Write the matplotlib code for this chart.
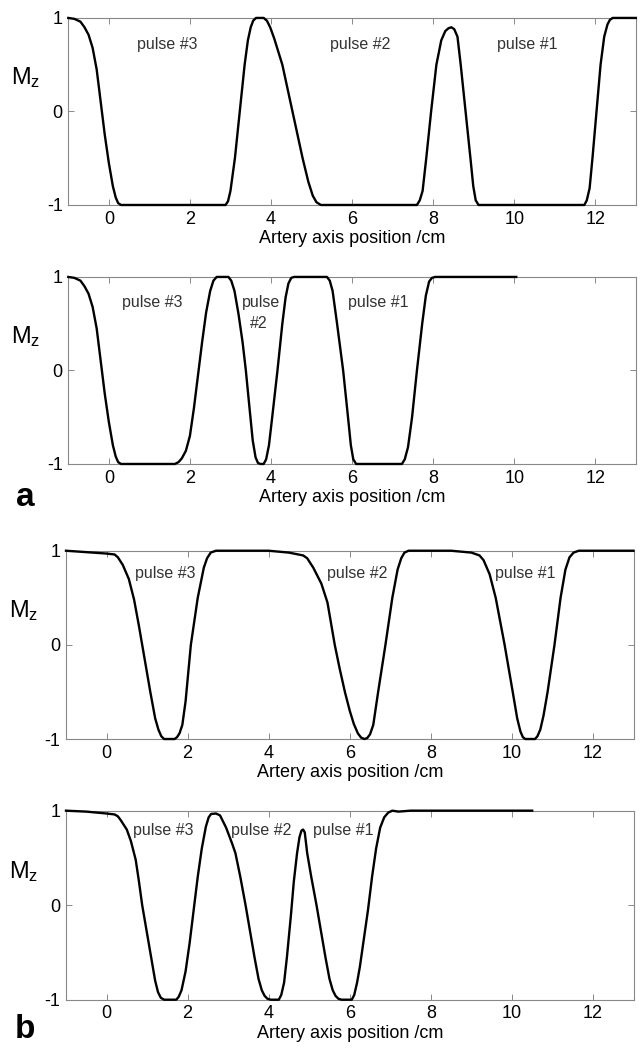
import matplotlib
matplotlib.use("Agg")
import matplotlib.pyplot as plt

plt.rcParams['font.family'] = ['Liberation Sans', 'DejaVu Sans']
plt.rcParams['mathtext.fontset'] = 'custom'
plt.rcParams['mathtext.rm'] = 'Liberation Sans'
plt.rcParams['mathtext.it'] = 'Liberation Sans'
plt.rcParams['axes.unicode_minus'] = False

# panel a, top: three pulses, wide spacing
x_a1 = [-1, -0.85, -0.7, -0.6, -0.5, -0.4, -0.3, -0.2, -0.1, 0, 0.1, 0.17, 0.23, 0.3,
        2.88, 2.94, 3.0, 3.11, 3.23, 3.35, 3.43, 3.5, 3.56, 3.63, 3.82, 3.9, 3.98,
        4.08, 4.28, 4.53, 4.78, 4.92, 5.03, 5.12, 5.23,
        7.6, 7.67, 7.74, 7.83, 7.95, 8.08, 8.2, 8.3, 8.38, 8.45, 8.52, 8.6, 8.68,
        8.8, 8.92, 8.99, 9.05, 9.12,
        11.73, 11.79, 11.86, 11.93, 12.03, 12.13, 12.22, 12.3, 12.36, 12.43, 13.0]
y_a1 = [1, 0.99, 0.96, 0.9, 0.82, 0.68, 0.45, 0.1, -0.25, -0.55, -0.8, -0.92, -0.98, -1,
        -1, -0.96, -0.85, -0.5, 0, 0.5, 0.76, 0.9, 0.97, 1, 1, 0.97, 0.9,
        0.78, 0.5, 0, -0.5, -0.75, -0.9, -0.97, -1,
        -1, -0.95, -0.85, -0.5, 0, 0.5, 0.76, 0.86, 0.89, 0.9, 0.88, 0.8, 0.5,
        0, -0.5, -0.8, -0.95, -1,
        -1, -0.95, -0.82, -0.5, 0, 0.5, 0.8, 0.93, 0.98, 1, 1]

# panel a, bottom: pulses closer together, curve ends at 10
x_a2 = [-1, -0.85, -0.7, -0.6, -0.5, -0.4, -0.3, -0.2, -0.1, 0, 0.1, 0.17, 0.23, 0.3,
        1.63, 1.72, 1.8, 1.9, 2.0, 2.1, 2.2, 2.3, 2.4, 2.5, 2.58, 2.66,
        2.95, 3.02, 3.1, 3.2, 3.3, 3.38, 3.47, 3.55, 3.62, 3.68, 3.74,
        3.82, 3.88, 3.95, 4.03, 4.16, 4.28, 4.36, 4.43, 4.5, 4.57,
        5.38, 5.45, 5.52, 5.63, 5.78, 5.9, 5.97, 6.03, 6.1,
        7.23, 7.3, 7.38, 7.48, 7.6, 7.73, 7.82, 7.9, 7.97, 8.05, 10.05]
y_a2 = [1, 0.99, 0.96, 0.9, 0.82, 0.68, 0.45, 0.1, -0.25, -0.55, -0.8, -0.92, -0.98, -1,
        -1, -0.98, -0.94, -0.86, -0.7, -0.4, -0.05, 0.3, 0.62, 0.85, 0.96, 1,
        1, 0.96, 0.85, 0.6, 0.3, 0, -0.4, -0.75, -0.93, -0.99, -1,
        -1, -0.95, -0.8, -0.5, 0, 0.5, 0.78, 0.93, 0.99, 1,
        1, 0.96, 0.85, 0.5, 0, -0.5, -0.8, -0.95, -1,
        -1, -0.95, -0.82, -0.5, 0, 0.5, 0.8, 0.95, 0.99, 1, 1]

# panel b, top
x_b1 = [-1, -0.5, 0, 0.2, 0.28, 0.4, 0.55, 0.68, 0.8, 0.88, 1.0, 1.08, 1.2, 1.28,
        1.35, 1.42, 1.68, 1.74, 1.8, 1.87, 1.95, 2.08, 2.25, 2.4, 2.48, 2.57, 2.7,
        4.0, 4.5, 4.85, 4.95, 5.1, 5.3, 5.45, 5.55, 5.63, 5.75, 5.88, 6.0, 6.1,
        6.2, 6.28, 6.36, 6.43, 6.5, 6.58, 6.7, 6.88, 7.05, 7.18, 7.27, 7.35, 7.45,
        8.5, 9.0, 9.2, 9.3, 9.45, 9.6, 9.82, 10.02, 10.13, 10.21, 10.27, 10.33,
        10.57, 10.63, 10.7, 10.78, 10.88, 11.05, 11.2, 11.32, 11.42, 11.52, 11.65, 13.0]
y_b1 = [1, 0.985, 0.97, 0.96, 0.93, 0.85, 0.7, 0.48, 0.2, 0, -0.3, -0.5, -0.78, -0.9,
        -0.97, -1, -1, -0.98, -0.94, -0.85, -0.6, 0, 0.5, 0.82, 0.92, 0.98, 1,
        1, 0.98, 0.95, 0.92, 0.82, 0.65, 0.45, 0.2, 0, -0.25, -0.5, -0.7, -0.84,
        -0.94, -0.985, -1, -0.99, -0.95, -0.85, -0.5, 0, 0.5, 0.8, 0.92, 0.98, 1,
        1, 0.98, 0.95, 0.9, 0.75, 0.5, 0, -0.5, -0.78, -0.92, -0.98, -1,
        -1, -0.97, -0.9, -0.75, -0.5, 0, 0.5, 0.8, 0.93, 0.98, 1, 1]

# panel b, bottom
x_b2 = [-1, -0.5, 0, 0.2, 0.28, 0.35, 0.5, 0.6, 0.72, 0.8, 0.88, 1.0, 1.1, 1.2, 1.27,
        1.34, 1.42, 1.72, 1.78, 1.85, 1.95, 2.05, 2.15, 2.25, 2.35, 2.45, 2.52,
        2.58, 2.7, 2.8, 2.95, 3.1, 3.18, 3.3, 3.43, 3.55, 3.65, 3.75, 3.83, 3.9,
        3.97, 4.05, 4.25, 4.31, 4.38, 4.45, 4.55, 4.62, 4.7, 4.76, 4.81, 4.85, 4.89,
        4.95, 5.05, 5.18, 5.3, 5.4, 5.5, 5.58, 5.65, 5.72, 5.8,
        6.05, 6.11, 6.18, 6.25, 6.35, 6.45, 6.55, 6.65, 6.75, 6.85, 6.95, 7.05,
        7.2, 7.5, 10.5]
y_b2 = [1, 0.99, 0.97, 0.96, 0.94, 0.9, 0.8, 0.68, 0.48, 0.25, 0, -0.3, -0.55, -0.8, -0.92,
        -0.98, -1, -1, -0.97, -0.9, -0.7, -0.4, -0.05, 0.3, 0.6, 0.83, 0.93,
        0.965, 0.97, 0.95, 0.82, 0.65, 0.55, 0.3, 0, -0.3, -0.55, -0.78, -0.9, -0.96,
        -0.99, -1, -1, -0.95, -0.82, -0.55, -0.1, 0.25, 0.55, 0.72, 0.79, 0.8, 0.77,
        0.55, 0.3, 0, -0.3, -0.55, -0.78, -0.9, -0.96, -0.99, -1,
        -1, -0.95, -0.82, -0.65, -0.35, -0.05, 0.3, 0.6, 0.82, 0.93, 0.98, 1.0,
        0.99, 1.0, 1.0]

# pulse labels: (text, x, y)
labels_a1 = [("pulse #3", 1.45, 0.72), ("pulse #2", 6.2, 0.72), ("pulse #1", 10.33, 0.72)]
labels_a2 = [("pulse #3", 1.07, 0.73), ("pulse", 3.75, 0.73), ("#2", 3.7, 0.5),
             ("pulse #1", 6.65, 0.73)]
labels_b1 = [("pulse #3", 1.45, 0.76), ("pulse #2", 6.18, 0.76), ("pulse #1", 10.33, 0.76)]
labels_b2 = [("pulse #3", 1.41, 0.79), ("pulse #2", 3.82, 0.79), ("pulse #1", 5.85, 0.79)]

xticks = [0, 2, 4, 6, 8, 10, 12]
yticks = [-1, 0, 1]

panels = [
    (x_a1, y_a1, labels_a1, [0.1067, 0.8046, 0.8868, 0.1783]),
    (x_a2, y_a2, labels_a2, [0.1067, 0.5577, 0.8868, 0.1783]),
    (x_b1, y_b1, labels_b1, [0.1031, 0.2955, 0.8868, 0.1795]),
    (x_b2, y_b2, labels_b2, [0.1031, 0.0470, 0.8868, 0.1802]),
]

fig = plt.figure(figsize=(6.4, 10.49), dpi=100)
for xs, ys, labs, rect in panels:
    ax = fig.add_axes(rect)
    ax.plot(xs, ys, color='black', lw=1.7, clip_on=False, zorder=3,
            solid_joinstyle='round')
    for txt, tx, ty in labs:
        ax.text(tx, ty, txt, ha='center', va='center', fontsize=11.5, color='#333333')
    ax.set_xlim(-1, 13)
    ax.set_ylim(-1, 1)
    ax.set_xticks(xticks)
    ax.set_yticks(yticks)
    ax.tick_params(direction='in', top=True, right=True, length=4, width=0.6,
                   color='#777777', labelsize=13, pad=4)
    for sp in ax.spines.values():
        sp.set_color('#888888')
        sp.set_linewidth(0.8)
    ax.set_xlabel('Artery axis position /cm', fontsize=13, labelpad=2)
    ax.text(-0.075, 0.68, r'M$_\mathrm{z}$', transform=ax.transAxes, fontsize=17,
            ha='center', va='center')

fig.text(25 / 640, 1 - 498 / 1049, 'a', fontsize=24, fontweight='bold', ha='center', va='center')
fig.text(25 / 640, 1 - 1030 / 1049, 'b', fontsize=24, fontweight='bold', ha='center', va='center')

fig.savefig('out.png', dpi=100)
